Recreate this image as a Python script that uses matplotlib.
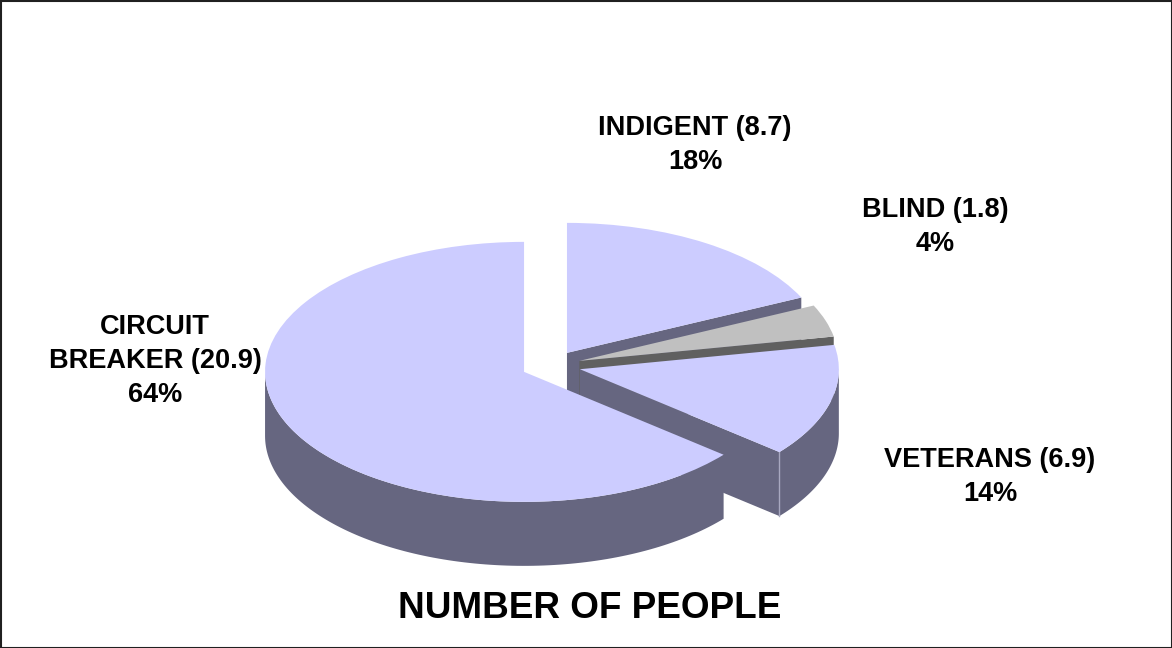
import numpy as np
from matplotlib import pyplot as plt
from matplotlib.patches import Rectangle

plt.rcParams['font.family'] = ['Liberation Sans', 'DejaVu Sans']

# counter clockwise from 12 o'clock, the way the pie is laid out
names = ["CIRCUIT\nBREAKER (20.9)", "VETERANS (6.9)", "BLIND (1.8)", "INDIGENT (8.7)"]
percent = [64, 14, 4, 18]
title = "NUMBER OF PEOPLE"

TOP = ["#CCCCFF", "#CCCCFF", "#C0C0C0", "#CCCCFF"]
SIDE = ["#666680", "#666680", "#606060", "#666680"]
DEPTH = 64 / 130  # wall height, in pie radii on the squashed y axis
EXPLODE = 0.115


def wall_points(wedge):
    """Outline of the walls of a wedge that face the viewer."""
    cx, cy = wedge.center
    r = wedge.r
    t1, t2 = wedge.theta1, wedge.theta2
    polys = []
    # the arc, only the part below the horizontal is seen
    lo, hi = max(t1, 180), min(t2, 360)
    if hi > lo:
        a = np.radians(np.linspace(lo, hi, 120))
        x = cx + r * np.cos(a)
        y = cy + r * np.sin(a)
        polys.append((np.r_[x, x[::-1]], np.r_[y, y[::-1] - DEPTH]))
    # the cut at theta1 faces the viewer when the slice is right of it
    if np.sin(np.radians(t1 - 90)) < 0:
        a = np.radians(t1)
        x = np.array([cx, cx + r * np.cos(a)])
        y = np.array([cy, cy + r * np.sin(a)])
        polys.append((np.r_[x, x[::-1]], np.r_[y, y[::-1] - DEPTH]))
    return polys


fig = plt.figure(figsize=(11.72, 6.48), dpi=100)
ax = fig.add_axes([0, 0, 1, 1])

wedges, _ = ax.pie(percent, startangle=90, colors=TOP, explode=[EXPLODE] * len(percent),
                   wedgeprops=dict(linewidth=0))

# indigent at the back, circuit breaker at the front
order = {3: 2, 2: 4, 1: 6, 0: 8}
for i, w in enumerate(wedges):
    w.set_zorder(order[i] + 1)
    for x, y in wall_points(w):
        ax.fill(x, y, color=SIDE[i], linewidth=0, zorder=order[i])

# light seam on the outer corner of the veterans slice
v = wedges[1]
a = np.radians(v.theta1)
sx = v.center[0] + v.r * np.cos(a)
sy = v.center[1] + v.r * np.sin(a)
ax.plot([sx, sx], [sy, sy - DEPTH], color="#A8A8C0", linewidth=1, zorder=order[1] + 0.5)

# pie radius is 259px wide and 130px high on the page
ax.set_aspect("auto")
ax.set_xlim(-551 / 259, 621 / 259)
ax.set_ylim(-282.5 / 130, 365.5 / 130)
ax.axis("off")

label_pos = [(155, 361), (990, 477), (935, 227), (695, 145)]
for name, p, (px, py) in zip(names, percent, label_pos):
    fig.text(px / 1172, 1 - py / 648, f"{name}\n{p}%", ha="center", va="center",
             fontsize=19.5, fontweight="bold", linespacing=1.38, color="black")

fig.text(590 / 1172, 1 - 608 / 648, title, ha="center", va="center",
         fontsize=26.6, fontweight="bold", color="black")

fig.add_artist(Rectangle((0.5 / 1172, 0.5 / 648), 1171 / 1172, 647 / 648, transform=fig.transFigure,
                         fill=False, edgecolor="#202020", linewidth=1.5))

fig.savefig("out.png", dpi=100)
